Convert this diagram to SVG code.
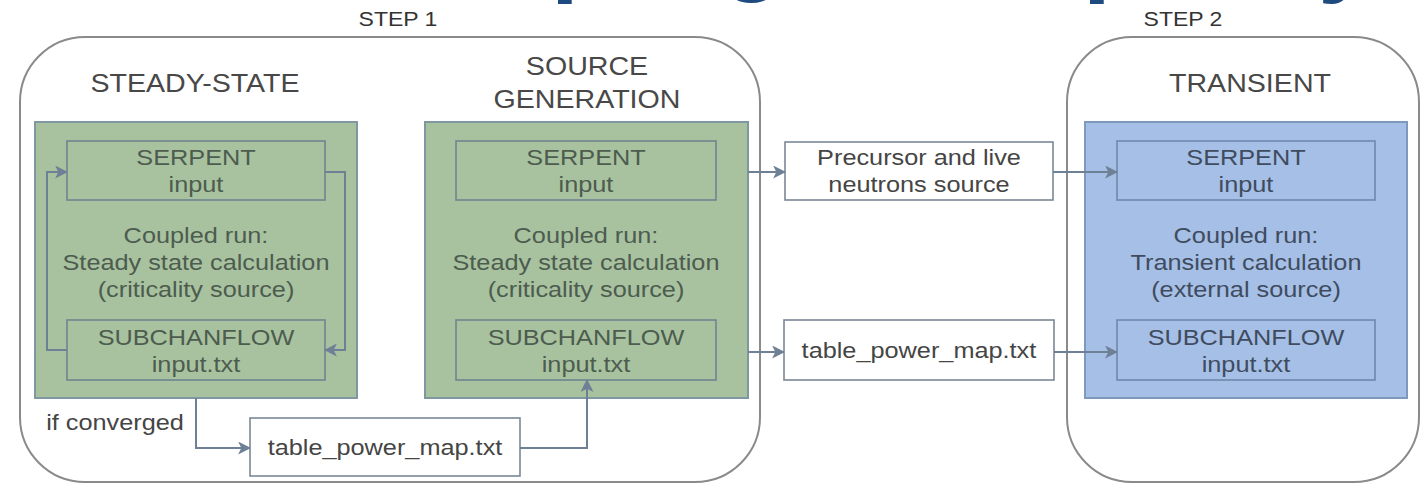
<svg xmlns="http://www.w3.org/2000/svg" width="1424" height="485" viewBox="0 0 1424 485">
<style>
.t{font-family:"Liberation Sans",Arial,sans-serif;text-anchor:middle;transform-box:fill-box;transform-origin:center;transform:scaleX(1.15)}
.step{font-size:20px;fill:#333}
.head{font-size:26px;fill:#484848;transform:scaleX(1.1)}
.g{font-size:22px;fill:#4d5c4f}
.b{font-size:22px;fill:#3f4c60}
.w{font-size:22px;fill:#454545}
.frame{fill:#fff;stroke:#8a8a8a;stroke-width:2}
.green{fill:#a8c29f;stroke:#7f97a0;stroke-width:2}
.ginner{fill:#a8c29f;stroke:#6f8590;stroke-width:1.6}
.blue{fill:#a6bfe6;stroke:#7f98bd;stroke-width:2}
.binner{fill:#a6bfe6;stroke:#6f88ad;stroke-width:1.6}
.wbox{fill:#fff;stroke:#7b8898;stroke-width:1.6}
.edge{fill:none;stroke:#6e8096;stroke-width:2;marker-end:url(#arr)}
.title{font-family:"Liberation Sans",Arial,sans-serif;font-weight:bold;font-size:100px;fill:#1f4a80}
</style>
<defs>
<marker id="arr" viewBox="0 0 12 12" refX="11" refY="6" markerWidth="13" markerHeight="13" markerUnits="userSpaceOnUse" orient="auto">
<path d="M0,0 L12,6 L0,12 L3,6 Z" fill="#6e8096"/>
</marker>
</defs>
<rect width="1424" height="485" fill="#fff"/>
<g id="title-fragments">
<text class="title" x="551" y="-17">p</text>
<text class="title" x="722" y="-18">g</text>
<text class="title" x="1083" y="-17">p</text>
<text class="title" x="1318" y="-17">y</text>
</g>
<g id="step1">
<rect class="frame" x="20" y="37" width="740" height="445" rx="65"/>
<text class="t step" x="398" y="26">STEP 1</text>
</g>
<g id="step2">
<rect class="frame" x="1067" y="37" width="352" height="445" rx="65"/>
<text class="t step" x="1183" y="26">STEP 2</text>
</g>
<g id="steady-state">
<text class="t head" x="195" y="92">STEADY-STATE</text>
<rect class="green" x="35" y="122" width="322" height="276"/>
<text class="t g" x="196" y="243">Coupled run:</text>
<text class="t g" x="196" y="270">Steady state calculation</text>
<text class="t g" x="196" y="297">(criticality source)</text>
</g>
<g id="ss-serpent">
<rect class="ginner" x="67" y="141" width="258" height="59"/>
<text class="t g" x="196" y="165">SERPENT</text>
<text class="t g" x="196" y="192">input</text>
</g>
<g id="ss-subchanflow">
<rect class="ginner" x="67" y="320" width="258" height="60"/>
<text class="t g" x="196" y="345">SUBCHANFLOW</text>
<text class="t g" x="196" y="372">input.txt</text>
</g>
<g id="source-generation">
<text class="t head" x="587" y="75">SOURCE</text>
<text class="t head" x="587" y="108">GENERATION</text>
<rect class="green" x="425" y="122" width="323" height="276"/>
<text class="t g" x="586" y="243">Coupled run:</text>
<text class="t g" x="586" y="270">Steady state calculation</text>
<text class="t g" x="586" y="297">(criticality source)</text>
</g>
<g id="sg-serpent">
<rect class="ginner" x="456" y="141" width="260" height="59"/>
<text class="t g" x="586" y="165">SERPENT</text>
<text class="t g" x="586" y="192">input</text>
</g>
<g id="sg-subchanflow">
<rect class="ginner" x="456" y="320" width="260" height="60"/>
<text class="t g" x="586" y="345">SUBCHANFLOW</text>
<text class="t g" x="586" y="372">input.txt</text>
</g>
<g id="transient">
<text class="t head" x="1250" y="92">TRANSIENT</text>
<rect class="blue" x="1085" y="122" width="322" height="276"/>
<text class="t b" x="1246" y="243">Coupled run:</text>
<text class="t b" x="1246" y="270">Transient calculation</text>
<text class="t b" x="1246" y="297">(external source)</text>
</g>
<g id="tr-serpent">
<rect class="binner" x="1117" y="141" width="258" height="59"/>
<text class="t b" x="1246" y="165">SERPENT</text>
<text class="t b" x="1246" y="192">input</text>
</g>
<g id="tr-subchanflow">
<rect class="binner" x="1117" y="320" width="258" height="60"/>
<text class="t b" x="1246" y="345">SUBCHANFLOW</text>
<text class="t b" x="1246" y="372">input.txt</text>
</g>
<g id="precursor">
<rect class="wbox" x="785" y="142" width="268" height="58"/>
<text class="t w" x="919" y="165">Precursor and live</text>
<text class="t w" x="919" y="192">neutrons source</text>
</g>
<g id="power-map-right">
<rect class="wbox" x="784" y="320" width="270" height="60"/>
<text class="t w" x="919" y="358">table_power_map.txt</text>
</g>
<g id="power-map-bottom">
<rect class="wbox" x="250" y="418" width="270" height="58"/>
<text class="t w" x="385" y="455">table_power_map.txt</text>
</g>
<g id="connectors">
<path class="edge" d="M67,350 H47 V172 H67"/>
<path class="edge" d="M325,172 H345 V350 H325"/>
<path class="edge" d="M196,398 V448 H250"/>
<path class="edge" d="M520,448 H587 V380"/>
<path class="edge" d="M748,172 H785"/>
<path class="edge" d="M1053,172 H1117"/>
<path class="edge" d="M748,352 H784"/>
<path class="edge" d="M1054,352 H1117"/>
<text class="t w" x="115" y="430">if converged</text>
</g>
</svg>
